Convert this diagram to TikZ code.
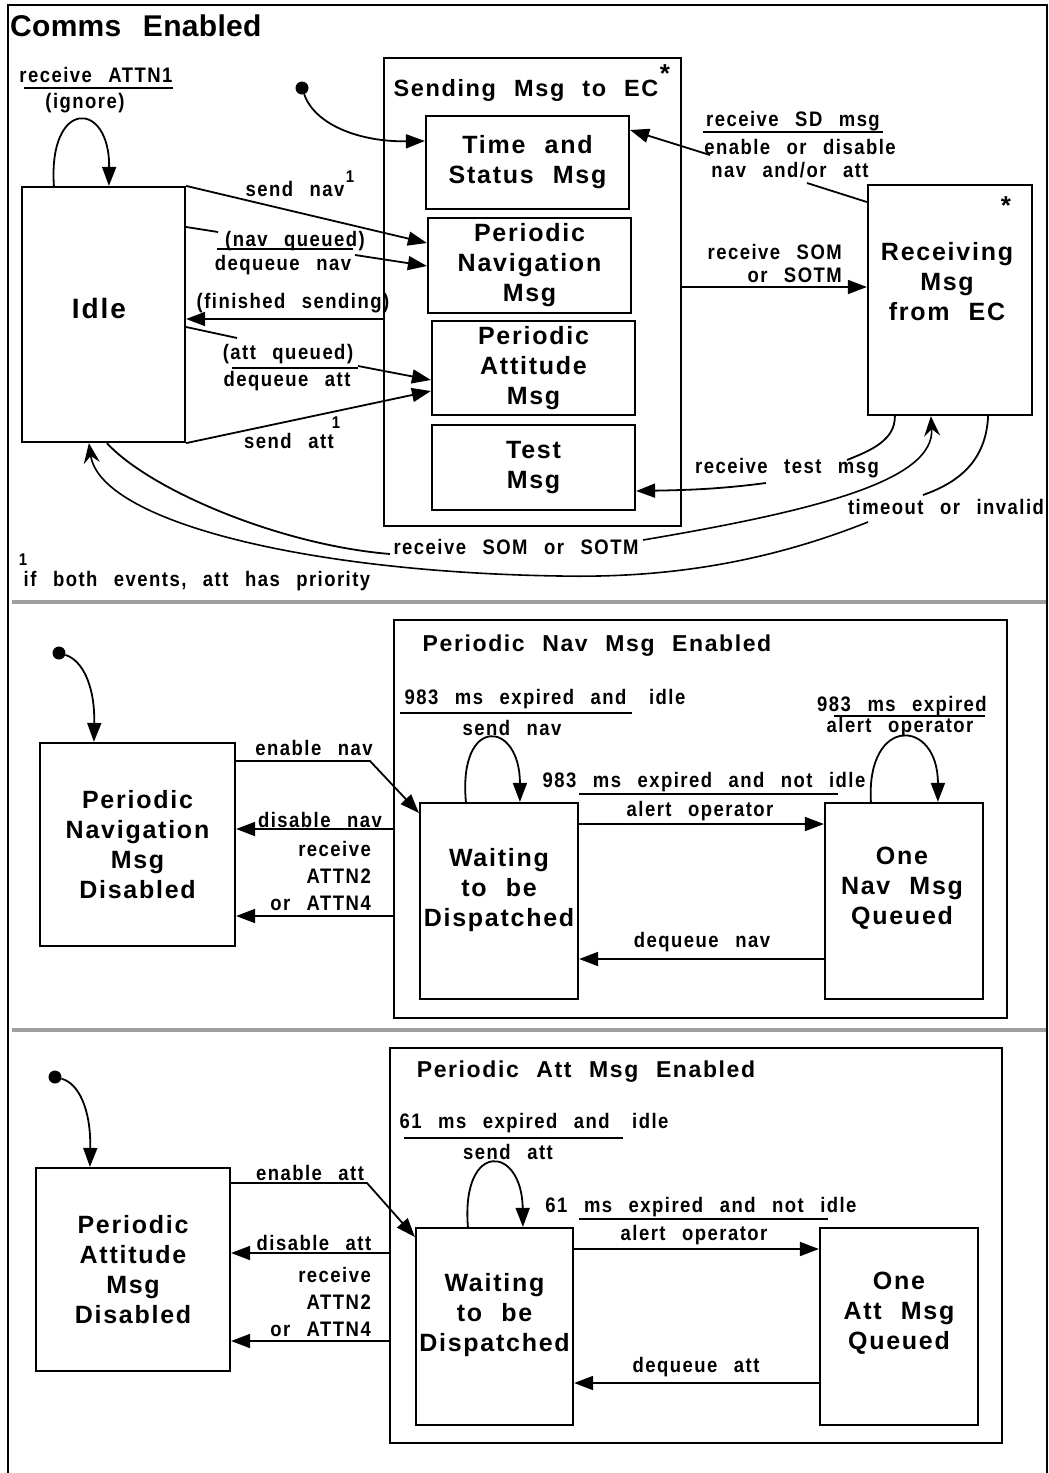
\documentclass[tikz,border=0pt]{standalone}
\usepackage{fontspec}
\setmainfont{Liberation Sans}
\newfontfamily\labfont{Liberation Sans}[LetterSpace=7,WordSpace=2.5,FakeStretch=0.88]
\newfontfamily\boxfont{Liberation Sans}[LetterSpace=7,WordSpace=2.2]
\newfontfamily\headfont{Liberation Sans}[LetterSpace=1,WordSpace=2.5]
\usetikzlibrary{arrows.meta,calc}

\begin{document}
\begin{tikzpicture}[x=1pt,y=-1pt,
  stbox/.style={draw, line width=2.2pt, inner sep=0pt, rectangle},
  sttext/.style={font=\boxfont\bfseries\fontsize{25}{30}\selectfont, align=center, inner sep=0pt},
  subhead/.style={font=\boxfont\bfseries\fontsize{23}{27}\selectfont, inner sep=0pt},
  lab/.style={font=\labfont\bfseries\fontsize{21}{23}\selectfont, align=center, inner sep=0pt},
  labr/.style={font=\labfont\bfseries\fontsize{21}{27}\selectfont, align=right, anchor=east, inner sep=0pt},
  supr/.style={font=\labfont\bfseries\fontsize{17}{18}\selectfont, inner sep=0pt},
  star/.style={font=\bfseries\fontsize{26}{28}\selectfont, inner sep=0pt},
  conn/.style={line width=1.8pt},
  tri/.style={conn, -{Triangle[length=19pt,width=14pt]}},
  stl/.style={line width=1.6pt, -{Stealth[length=20pt,width=16pt,inset=7pt]}},
  uline/.style={line width=1.4pt},
  dot/.style={circle, fill=black, inner sep=0pt, minimum size=13pt},
  sepline/.style={draw=black!38, line width=3.5pt},
]
\useasboundingbox (0,0) rectangle (1049,1473);
\fill[white] (0,0) rectangle (1049,1473);

% outer frame and section separators
\draw[line width=2pt] (8,1473) -- (8,5) -- (1047,5) -- (1047,1473);
\draw[sepline] (12,602) -- (1046,602);
\draw[sepline] (12,1030) -- (1046,1030);

\node[anchor=west, font=\headfont\bfseries\fontsize{30}{34}\selectfont, inner sep=0pt] (title) at (10,26) {Comms Enabled};

% ---------------- top section: communication states ----------------
\node[stbox, minimum width=163pt, minimum height=255pt] (idle) at (103.5,314.5) {};
\node[sttext, font=\boxfont\bfseries\fontsize{28}{32}\selectfont] (idleT) at (99,308) {Idle};

\node[stbox, minimum width=297pt, minimum height=468pt] (send) at (532.5,292) {};
\node[font=\boxfont\bfseries\fontsize{23.5}{28}\selectfont, inner sep=0pt] (sendT) at (526,90) {Sending Msg to EC};
\node[star] (sendStar) at (665,74) {*};

\node[stbox, sttext, minimum width=203pt, minimum height=93pt] (ts) at (527.5,162.5) {Time and\\Status Msg};
\node[stbox, sttext, minimum width=203pt, minimum height=95pt] (pnav) at (529.5,265.5) {Periodic\\Navigation\\Msg};
\node[stbox, sttext, minimum width=203pt, minimum height=94pt] (patt) at (533.5,368) {Periodic\\Attitude\\Msg};
\node[stbox, sttext, minimum width=203pt, minimum height=85pt] (test) at (533.5,467.5) {Test\\Msg};

\node[stbox, minimum width=164pt, minimum height=230pt] (recv) at (950,300) {};
\node[sttext] (recvT) at (947,282) {Receiving\\Msg\\from EC};
\node[star] (recvStar) at (1006,206) {*};

% Idle self loop
\draw[tri] ($(idle.north west)+(33,0)$) .. controls (48,98) and (110,100) .. ($(idle.north west)+(88,0)$);
\node[lab] (lattn1) at (96,75) {receive ATTN1};
\draw[uline] (24,88) -- (173,88);
\node[lab] (lign) at (85,103) {(ignore)};

% initial state
\node[dot] (ini1) at (302,88) {};
\draw[tri] (ini1) .. controls (315,125) and (360,142) .. (ts.west |- 0,141);

% Idle -> Periodic Navigation
\draw[tri] (idle.north east) -- (pnav.west |- 0,243);
\node[lab] (lsendnav) at (295,189) {send nav};
\node[supr] (sup1) at (350,177) {1};

\coordinate (nq1) at (218,232);
\coordinate (nq2) at (355,255);
\draw[conn] (idle.east |- 0,227) -- (nq1);
\draw[tri] (nq2) -- (pnav.west |- 0,266);
\node[lab] (lnavq) at (295,241) {(nav queued)};
\draw[uline] (217,249) -- (353,249);
\node[lab] (ldeqnav) at (283,265) {dequeue nav};

% Sending -> Idle
\draw[tri] (send.west |- 0,319) -- (idle.east |- 0,319);
\node[lab] (lfin) at (293,303) {(finished sending)};

% Idle -> Periodic Attitude
\coordinate (aq1) at (237,338);
\coordinate (aq2) at (358,366);
\draw[conn] (idle.east |- 0,327) -- (aq1);
\draw[tri] (aq2) -- (patt.west |- 0,380);
\node[lab] (lattq) at (288,354) {(att queued)};
\draw[uline] (232,368) -- (358,368);
\node[lab] (ldeqatt) at (287,381) {dequeue att};

\draw[tri] (idle.south east) -- (patt.west |- 0,391);
\node[lab] (lsendatt) at (289,441) {send att};
\node[supr] (sup2) at (336,423) {1};

% Receiving -> Time and Status
\coordinate (sd1) at (807,183);
\coordinate (sd2) at (710,155);
\draw[conn] (recv.west |- 0,202) -- (sd1);
\draw[tri] (sd2) -- (ts.east |- 0,130);
\node[lab] (lsd) at (793,121) {receive SD msg};
\draw[uline] (703,132) -- (883,132);
\node[lab] (lenab) at (800,147) {enable or disable};
\node[lab] (lnavatt) at (790,170) {nav and/or att};

% Sending -> Receiving
\draw[tri] (send.east |- 0,287) -- (recv.west |- 0,287);
\node[lab, align=right, anchor=east] (lsom) at (842,263) {receive SOM\\or SOTM};

% Receiving -> Test
\coordinate (tm1) at (847,460);
\coordinate (tm2) at (766,483);
\draw[conn] ($(recv.south west)+(28,0)$) .. controls (895,440) and (872,450) .. (tm1);
\draw[tri] (tm2) .. controls (720,489) and (690,490) .. (test.east |- 0,491);
\node[lab] (ltest) at (787,468) {receive test msg};

% Idle -> Receiving
\coordinate (so1) at (390,554);
\coordinate (so2) at (643,540);
\draw[conn] ($(idle.south west)+(86,0)$) .. controls (150,490) and (280,545) .. (so1);
\draw[stl] (so2) .. controls (820,510) and (935,480) .. ($(recv.south west)+(64,0)$);
\node[lab] (lsom2) at (516,547) {receive SOM or SOTM};

% Receiving -> Idle
\coordinate (to1) at (923,495);
\coordinate (to2) at (868,522);
\draw[conn] ($(recv.south east)+(-45,0)$) .. controls (986,460) and (960,482) .. (to1);
\draw[stl] (to2) .. controls (760,565) and (660,578) .. (560,576) .. controls (300,572) and (100,520) .. ($(idle.south west)+(68,0)$);
\node[lab] (lto) at (946,507) {timeout or invalid};

% footnote
\node[supr] (fn1) at (23,560) {1};
\node[lab] (lfn) at (197,581) {if both events, att has priority};

% ---------------- middle section: periodic navigation ----------------
\node[dot] (ini2) at (59,653) {};
\node[stbox, sttext, minimum width=195pt, minimum height=203pt] (ndis) at (137.5,844.5) {Periodic\\Navigation\\Msg\\Disabled};
\draw[tri] (ini2) .. controls (82,660) and (95,685) .. ($(ndis.north west)+(55,0)$);

\node[stbox, minimum width=613pt, minimum height=398pt] (nen) at (700.5,819) {};
\node[subhead] (nenT) at (597,646) {Periodic Nav Msg Enabled};
\node[stbox, minimum width=158pt, minimum height=196pt] (nwait) at (499,901) {};
\node[sttext] (nwaitT) at (499,890) {Waiting\\to be\\Dispatched};
\node[stbox, minimum width=158pt, minimum height=196pt] (nq) at (904,901) {};
\node[sttext] (nqT) at (902,888) {One\\Nav Msg\\Queued};

\draw[tri] (ndis.east |- 0,761) -- (370,761) -- (nwait.west |- 0,813);
\node[lab] (lenav) at (314,748) {enable nav};
\draw[tri] (nen.west |- 0,829) -- (ndis.east |- 0,829);
\node[lab] (ldnav) at (320,820) {disable nav};
\draw[tri] (nen.west |- 0,916) -- (ndis.east |- 0,916);
\node[labr] (lattnN) at (371,876) {receive\\ATTN2\\or ATTN4};

\draw[tri] ($(nwait.north west)+(47,0)$) .. controls (458,715) and (520,720) .. ($(nwait.north west)+(101,0)$);
\node[lab] (lexpN1) at (545,699) {983 ms expired and\hspace{6pt} idle};
\draw[uline] (400,713) -- (632,713);
\node[lab] (lsn) at (512,728) {send nav};

\draw[tri] (nwait.east |- 0,824) -- (nq.west |- 0,824);
\node[lab] (lexpN2) at (704,782) {983 ms expired and not idle};
\draw[uline] (579,794) -- (838,794);
\node[lab] (lalN1) at (700,811) {alert operator};

\draw[tri] ($(nq.north west)+(47,0)$) .. controls (866,715) and (938,718) .. ($(nq.north west)+(114,0)$);
\node[lab] (lexpN3) at (902,706) {983 ms expired};
\draw[uline] (834,716) -- (985,716);
\node[lab] (lalN2) at (900,727) {alert operator};

\draw[tri] (nq.west |- 0,959) -- (nwait.east |- 0,959);
\node[lab] (ldqN) at (702,942) {dequeue nav};

% ---------------- bottom section: periodic attitude ----------------
\node[dot] (ini3) at (55,1077) {};
\node[stbox, sttext, minimum width=194pt, minimum height=203pt] (adis) at (133,1269.5) {Periodic\\Attitude\\Msg\\Disabled};
\draw[tri] (ini3) .. controls (78,1083) and (91,1108) .. ($(adis.north west)+(55,0)$);

\node[stbox, minimum width=612pt, minimum height=395pt] (aen) at (696,1245.5) {};
\node[subhead] (aenT) at (586,1072) {Periodic Att Msg Enabled};
\node[stbox, minimum width=157pt, minimum height=197pt] (await) at (494.5,1326.5) {};
\node[sttext] (awaitT) at (494.5,1315) {Waiting\\to be\\Dispatched};
\node[stbox, minimum width=158pt, minimum height=197pt] (aq) at (899,1326.5) {};
\node[sttext] (aqT) at (899,1313) {One\\Att Msg\\Queued};

\draw[tri] (adis.east |- 0,1183) -- (367,1183) -- (await.west |- 0,1237);
\node[lab] (leatt) at (310,1173) {enable att};
\draw[tri] (aen.west |- 0,1253) -- (adis.east |- 0,1253);
\node[lab] (ldatt) at (314,1243) {disable att};
\draw[tri] (aen.west |- 0,1341) -- (adis.east |- 0,1341);
\node[labr] (lattnA) at (371,1302) {receive\\ATTN2\\or ATTN4};

\draw[tri] ($(await.north west)+(53,0)$) .. controls (461,1140) and (522,1145) .. ($(await.north west)+(108,0)$);
\node[lab] (lexpA1) at (534,1123) {61 ms expired and\hspace{6pt} idle};
\draw[uline] (404,1138) -- (623,1138);
\node[lab] (lsa) at (508,1152) {send att};

\draw[tri] (await.east |- 0,1249) -- (aq.west |- 0,1249);
\node[lab] (lexpA2) at (701,1207) {61 ms expired and not idle};
\draw[uline] (579,1219) -- (828,1219);
\node[lab] (lalA) at (694,1235) {alert operator};

\draw[tri] (aq.west |- 0,1383) -- (await.east |- 0,1383);
\node[lab] (ldqA) at (696,1367) {dequeue att};
\end{tikzpicture}
\end{document}
